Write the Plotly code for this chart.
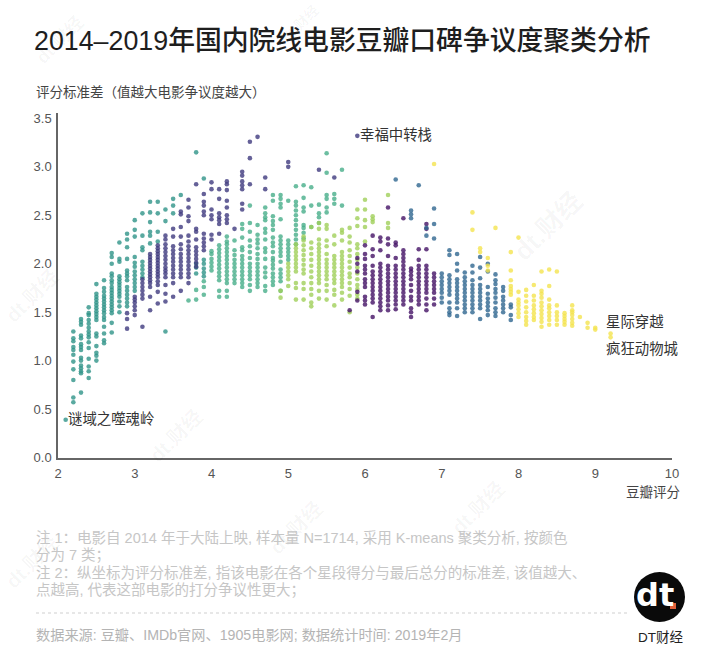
import plotly.graph_objects as go

WIDTH = 720
HEIGHT = 664
LATIN_CJK = "Liberation Sans, Noto Sans CJK SC"

TITLE = "2014–2019年国内院线电影豆瓣口碑争议度聚类分析"
Y_TITLE = "评分标准差（值越大电影争议度越大）"
X_TITLE = "豆瓣评分"
X_TICKS = [2, 3, 4, 5, 6, 7, 8, 9, 10]
Y_TICKS = [0, 0.5, 1, 1.5, 2, 2.5, 3, 3.5]
Y_TICK_LABELS = ["0.0", "0.5", "1.0", "1.5", "2.0", "2.5", "3.0", "3.5"]

NOTES = [
    "注 1：电影自 2014 年于大陆上映, 样本量 N=1714, 采用 K-means 聚类分析, 按颜色",
    "分为 7 类；",
    "注 2：纵坐标为评分标准差, 指该电影在各个星段得分与最后总分的标准差, 该值越大、",
    "点越高, 代表这部电影的打分争议性更大；",
]
SOURCE = "数据来源: 豆瓣、IMDb官网、1905电影网; 数据统计时间: 2019年2月"

# score -> list of rating std values, one dict per k-means cluster
teal = {
    2.1: [0.39],
    2.2: [0.57, 0.62, 0.8, 0.91, 0.99, 1.06, 1.11, 1.14, 1.2, 1.23, 1.3],
    2.3: [0.67, 0.87, 0.89, 0.92, 0.95, 1.0, 1.03, 1.11, 1.14, 1.17, 1.23, 1.26, 1.37, 1.4, 1.43],
    2.4: [0.82, 0.89, 0.94, 1.02, 1.13, 1.19, 1.24, 1.27, 1.3, 1.34, 1.38, 1.42, 1.47, 1.49, 1.55],
    2.5: [1.0, 1.05, 1.08, 1.15, 1.25, 1.28, 1.42, 1.45, 1.48, 1.51, 1.54, 1.57, 1.6, 1.63, 1.66, 1.69, 1.79],
    2.6: [1.18, 1.21, 1.28, 1.35, 1.42, 1.45, 1.49, 1.52, 1.55, 1.58, 1.61, 1.64, 1.67, 1.71, 1.75, 1.83],
    2.7: [1.29, 1.39, 1.49, 1.52, 1.55, 1.58, 1.61, 1.64, 1.67, 1.7, 1.73, 1.76, 1.8, 1.83, 1.87, 1.9, 2.0, 2.07, 2.11],
    2.8: [1.5, 1.56, 1.61, 1.66, 1.69, 1.72, 1.75, 1.78, 1.81, 1.84, 1.87, 2.02, 2.05, 2.22],
    2.9: [1.56, 1.6, 1.64, 1.68, 1.72, 1.76, 1.83, 1.87, 1.9, 1.93, 2.05, 2.17, 2.25, 2.31],
    3.0: [1.72, 1.76, 1.8, 1.84, 1.88, 1.92, 1.97, 2.01, 2.07, 2.28, 2.35, 2.45],
    3.1: [1.86, 1.9, 1.94, 1.98, 2.02, 2.14, 2.17, 2.29, 2.52],
    3.2: [2.21, 2.29, 2.33, 2.43, 2.53, 2.64],
    3.3: [2.23, 2.33, 2.52, 2.64],
    3.4: [1.3, 2.44, 2.56],
    3.5: [2.52, 2.6, 2.67],
    3.6: [2.71],
    3.8: [3.15, 2.0, 1.96, 1.9],
    3.9: [2.88, 1.87, 1.91, 1.95, 2.0, 2.04],
}
indigo = {
    2.9: [1.33, 1.43, 1.49],
    3.0: [1.47, 1.52, 1.56, 1.6, 1.63, 1.66],
    3.1: [1.35, 1.64, 1.68, 1.72, 1.76, 1.8, 1.84],
    3.2: [1.52, 1.66, 1.76, 1.8, 1.83, 1.86, 1.89, 1.92, 1.95, 1.98, 2.01, 2.04, 2.07, 2.1],
    3.3: [1.59, 1.71, 1.78, 1.82, 1.86, 1.89, 1.92, 1.95, 1.98, 2.01, 2.04, 2.07, 2.1, 2.13, 2.16, 2.19],
    3.4: [1.61, 1.69, 1.78, 1.86, 1.9, 1.93, 1.96, 2.0, 2.04, 2.08, 2.12, 2.16, 2.2, 2.25, 2.29],
    3.5: [1.66, 1.8, 1.86, 1.9, 1.94, 1.98, 2.02, 2.06, 2.1, 2.14, 2.18, 2.28, 2.36],
    3.6: [1.72, 1.86, 1.9, 1.94, 1.98, 2.02, 2.06, 2.1, 2.15, 2.2, 2.28, 2.38, 2.51, 2.54],
    3.7: [1.8, 1.86, 1.9, 1.94, 1.98, 2.02, 2.06, 2.1, 2.14, 2.18, 2.23, 2.29, 2.44, 2.49, 2.58, 2.66],
    3.8: [1.97, 2.01, 2.05, 2.09, 2.13, 2.17, 2.25, 2.33, 2.36, 2.82],
    3.9: [2.14, 2.18, 2.22, 2.26, 2.31, 2.5, 2.54, 2.6, 2.64, 2.72],
    4.0: [2.25, 2.3, 2.46, 2.5, 2.56, 2.77, 2.84],
    4.1: [2.31, 2.41, 2.45, 2.48, 2.52, 2.67, 2.77],
    4.2: [2.42, 2.46, 2.5, 2.58, 2.65, 2.76, 2.82, 2.85],
    4.3: [2.36],
    4.4: [2.56, 2.62, 2.77, 2.81, 2.85, 2.91, 2.95],
    4.5: [2.82, 3.09, 3.26],
    4.6: [3.31],
    4.7: [2.77, 2.89],
    5.0: [3.0, 3.05],
    5.4: [2.97],
    5.6: [2.89],
    5.9: [3.32],
}
green = {
    3.7: [1.62],
    3.8: [1.63, 1.73],
    3.9: [1.68, 1.76, 1.82],
    4.0: [1.93, 1.97, 2.01, 2.05, 2.1, 2.13],
    4.1: [1.66, 1.72, 1.83, 1.87, 1.91, 1.95, 1.99, 2.03, 2.07, 2.11, 2.15, 2.19],
    4.2: [1.66, 1.72, 1.8, 1.84, 1.88, 1.92, 1.96, 2.0, 2.04, 2.08, 2.12, 2.16, 2.2, 2.23, 2.28],
    4.3: [1.8, 1.84, 1.88, 1.92, 1.96, 2.0, 2.04, 2.09, 2.14, 2.24],
    4.4: [1.76, 1.8, 1.84, 1.88, 1.92, 1.96, 2.0, 2.04, 2.08, 2.14, 2.17, 2.27, 2.36, 2.41],
    4.5: [1.72, 1.78, 1.84, 1.88, 1.92, 1.96, 2.0, 2.06, 2.12, 2.18, 2.24, 2.33, 2.42, 2.6],
    4.6: [1.76, 1.8, 1.84, 1.88, 1.92, 1.96, 2.0, 2.05, 2.1, 2.16, 2.21, 2.25, 2.3, 2.4],
    4.7: [1.72, 1.77, 1.86, 1.91, 1.96, 2.05, 2.12, 2.16, 2.25, 2.32, 2.36, 2.45, 2.48, 2.52, 2.58],
    4.8: [1.78, 1.82, 1.86, 1.9, 1.95, 1.99, 2.03, 2.06, 2.12, 2.18, 2.22, 2.27, 2.35, 2.4, 2.44, 2.49, 2.65, 2.71],
    4.9: [1.72, 1.82, 1.86, 1.9, 1.94, 2.02, 2.08, 2.12, 2.16, 2.2, 2.24, 2.28, 2.46, 2.58, 2.62, 2.67, 2.71],
    5.0: [2.04, 2.08, 2.12, 2.16, 2.2, 2.24, 2.65],
    5.1: [2.2, 2.25, 2.3, 2.35, 2.4, 2.45, 2.5, 2.55, 2.6, 2.64, 2.8],
    5.2: [2.26, 2.32, 2.37, 2.4, 2.54, 2.58, 2.68, 2.81],
    5.3: [2.38, 2.6, 2.79],
    5.4: [2.42, 2.48, 2.52, 2.61],
    5.5: [2.53, 2.58, 2.67, 2.71, 2.94, 3.14],
    5.6: [2.62, 2.67, 2.72],
    5.7: [2.6, 2.97],
}
light_green = {
    4.9: [1.65, 1.72],
    5.0: [1.77, 1.84, 1.88, 1.92, 1.96, 2.0],
    5.1: [1.63, 1.75, 1.8, 1.92, 1.96, 2.0, 2.04, 2.08, 2.12, 2.16, 2.2],
    5.2: [1.63, 1.74, 1.8, 1.9, 1.94, 1.99, 2.04, 2.09, 2.14, 2.19, 2.24, 2.28],
    5.3: [1.56, 1.6, 1.68, 1.74, 1.8, 1.86, 1.92, 1.98, 2.04, 2.1, 2.16, 2.22, 2.38],
    5.4: [1.64, 1.72, 1.8, 1.84, 1.88, 1.92, 1.96, 2.0, 2.04, 2.08, 2.12, 2.16, 2.2, 2.25, 2.36, 2.42],
    5.5: [1.63, 1.72, 1.78, 1.84, 1.88, 1.92, 1.96, 2.0, 2.04, 2.1, 2.18, 2.24, 2.36, 2.4],
    5.6: [1.57, 1.68, 1.73, 1.8, 1.84, 1.88, 1.92, 1.96, 2.0, 2.04, 2.08, 2.2, 2.29],
    5.7: [1.63, 1.7, 1.76, 1.8, 1.84, 1.88, 1.92, 1.96, 2.0, 2.04, 2.08, 2.12, 2.24, 2.32, 2.35],
    5.8: [1.5, 1.67, 1.74, 1.8, 1.86, 1.9, 1.96, 2.02, 2.08, 2.14, 2.22, 2.28, 2.37],
    5.9: [1.64, 1.68, 1.74, 1.78, 1.84, 1.9, 1.96, 2.04, 2.1, 2.16, 2.2, 2.39, 2.47, 2.56],
    6.0: [2.23, 2.38, 2.45, 2.56, 2.66],
    6.1: [2.43, 2.46, 2.49],
    6.3: [2.37, 2.42, 2.71],
}
purple = {
    5.8: [1.52],
    5.9: [1.62, 1.71, 1.92, 2.0, 2.06],
    6.0: [1.58, 1.62, 1.66, 1.76, 1.8, 1.84, 1.9, 1.94, 1.98, 2.05, 2.1, 2.19],
    6.1: [1.45, 1.6, 1.64, 1.68, 1.72, 1.76, 1.8, 1.84, 1.88, 1.92, 1.98, 2.08, 2.15, 2.29],
    6.2: [1.52, 1.56, 1.6, 1.64, 1.68, 1.72, 1.76, 1.8, 1.84, 1.88, 1.92, 1.96, 2.0, 2.14, 2.23, 2.27],
    6.3: [1.52, 1.57, 1.62, 1.66, 1.7, 1.74, 1.78, 1.82, 1.86, 1.9, 1.94, 1.98, 2.08, 2.2, 2.26, 2.58],
    6.4: [1.53, 1.58, 1.62, 1.66, 1.7, 1.74, 1.78, 1.82, 1.86, 1.9, 1.94, 1.98, 2.06, 2.19, 2.22],
    6.5: [1.58, 1.62, 1.66, 1.7, 1.74, 1.78, 1.82, 1.86, 1.9, 1.94, 1.98, 2.02, 2.06, 2.1, 2.14, 2.47],
    6.6: [1.45, 1.5, 1.54, 1.62, 1.66, 1.72, 1.78, 1.84, 1.88, 1.92, 1.95],
    6.7: [1.58, 1.62, 1.66, 1.7, 1.74, 1.78, 1.82, 1.86, 1.9, 1.94, 1.98, 2.04, 2.15],
    6.8: [1.52, 1.58, 1.64, 1.7, 1.74, 1.78, 1.82, 1.86, 1.9, 1.94, 1.98, 2.15, 2.36, 2.41],
    6.9: [1.58, 1.64, 1.7, 1.74, 1.78, 1.82, 1.86, 1.9],
}
blue = {
    6.4: [2.87],
    6.6: [2.47, 2.51, 2.55],
    6.7: [2.81],
    6.8: [2.29, 2.37],
    6.9: [2.26, 2.41, 2.57],
    7.0: [1.6, 1.65, 1.7, 1.74, 1.78, 1.82, 1.86, 1.9],
    7.1: [1.47, 1.5, 1.54, 1.6, 1.68, 1.72, 1.76, 1.8, 1.84, 1.88, 2.09, 2.14],
    7.2: [1.46, 1.54, 1.6, 1.64, 1.68, 1.72, 1.76, 1.8, 1.84, 1.93, 2.0, 2.1],
    7.3: [1.5, 1.54, 1.58, 1.62, 1.66, 1.7, 1.74, 1.78, 1.82, 1.86, 1.91],
    7.4: [1.5, 1.54, 1.58, 1.62, 1.66, 1.7, 1.74, 1.78, 1.83, 1.91, 1.98],
    7.5: [1.43, 1.54, 1.58, 1.62, 1.66, 1.7, 1.74, 1.78, 1.85, 1.96, 2.07],
    7.6: [1.47, 1.52, 1.56, 1.6, 1.64, 1.69, 1.76, 1.92, 2.0],
    7.7: [1.46, 1.5, 1.54, 1.6, 1.65, 1.7, 1.74, 1.79, 1.83, 1.89],
    7.8: [1.5, 1.54, 1.58, 1.62, 1.66, 1.72, 1.76],
    7.9: [1.42, 1.47, 1.55, 1.58],
}
yellow = {
    6.9: [3.03],
    7.4: [2.35, 2.53],
    7.5: [2.12, 2.16],
    7.6: [1.98, 2.06, 1.93],
    7.7: [2.37],
    7.9: [1.68, 1.71, 1.74, 1.77, 1.83, 1.93, 2.12],
    8.0: [1.45, 1.49, 1.53, 1.57, 1.6, 1.63, 1.71, 2.27],
    8.1: [1.37, 1.41, 1.45, 1.5, 1.55, 1.61, 1.67, 1.73],
    8.2: [1.42, 1.45, 1.49, 1.53, 1.57, 1.62, 1.67, 1.78],
    8.3: [1.35, 1.4, 1.44, 1.48, 1.52, 1.56, 1.6, 1.65, 1.69, 1.72, 1.92],
    8.4: [1.37, 1.42, 1.46, 1.5, 1.54, 1.57, 1.63, 1.77, 1.94],
    8.5: [1.37, 1.42, 1.46, 1.5, 1.57, 1.92],
    8.6: [1.37, 1.4, 1.43, 1.46, 1.49],
    8.7: [1.36, 1.39, 1.43, 1.47, 1.5, 1.52, 1.57],
    8.8: [1.45],
    8.9: [1.34, 1.39],
    9.0: [1.32, 1.34],
    9.2: [1.24, 1.28],
}
clusters = [
    (teal, "#2f9488"),
    (indigo, "#3f3a7e"),
    (green, "#47ae89"),
    (light_green, "#a0cf5a"),
    (purple, "#441265"),
    (blue, "#2f6690"),
    (yellow, "#f4e44f"),
]

WATERMARKS = [(300, 24, 14), (548, 226, 26), (32, 296, 20), (296, 528, 20), (478, 508, 20), (32, 562, 20), (176, 436, 20), (60, 40, 18)]


def px(x):
    return x / WIDTH


def py(y):
    return 1 - y / HEIGHT


fig = go.Figure()
for data, color in clusters:
    xs, ys = [], []
    for score, values in data.items():
        for v in values:
            xs.append(score)
            ys.append(v)
    fig.add_trace(
        go.Scatter(
            x=xs,
            y=ys,
            mode="markers",
            marker=dict(size=4.6, color=color, opacity=0.8, line=dict(width=0)),
            hoverinfo="skip",
        )
    )


def label(x, y, text, size, color="#333333", anchor="left", weight=None, family=LATIN_CJK, angle=0):
    font = dict(size=size, color=color, family=family)
    if weight:
        font["weight"] = weight
    fig.add_annotation(
        x=px(x), y=py(y), xref="paper", yref="paper", text=text, showarrow=False,
        xanchor=anchor, yanchor="middle", font=font, textangle=angle, borderpad=0, borderwidth=0,
    )


for x, y, size in WATERMARKS:
    label(x, y, "dt.财经", size, color="rgba(0,0,0,0.04)", anchor="center", weight=700, angle=-45)

label(34, 41, TITLE, 26.8, color="#1e1e1e", weight=500)
label(36, 93, Y_TITLE, 13.5, color="#444444")
label(680, 492, X_TITLE, 13.5, color="#444444", anchor="right")

# call-outs sit next to their points in data coordinates
for x, y, text in [(2.1, 0.41, "谜域之噬魂岭"), (5.91, 3.34, "幸福中转栈"), (9.12, 1.41, "星际穿越"), (9.12, 1.14, "疯狂动物城")]:
    fig.add_annotation(x=x, y=y, text=text, showarrow=False, xanchor="left", yanchor="middle",
                       font=dict(size=14.4, color="#333333", family="Noto Sans CJK SC"))

for y, line in zip([538, 555, 573, 590], NOTES):
    label(36, y, line, 14.5, color="#c6c6c6")
label(36, 635, SOURCE, 14.2, color="#b4b4b4")

fig.add_shape(type="line", xref="paper", yref="paper", x0=px(36), x1=px(628), y0=py(613), y1=py(613),
              line=dict(color="#cfcfcf", width=1, dash="dot"))
fig.add_shape(type="circle", xref="paper", yref="paper", x0=px(634), x1=px(685), y0=py(572), y1=py(622),
              fillcolor="#0a0a0a", line=dict(width=0))
label(655, 595, "dt", 32, color="#ffffff", anchor="center", weight=700, family="DejaVu Sans")
fig.add_shape(type="rect", xref="paper", yref="paper", x0=px(670), x1=px(676), y0=py(603), y1=py(609),
              fillcolor="#e0603a", line=dict(width=0))
label(660, 637, "DT财经", 13.5, color="#222222", anchor="center")

fig.update_layout(
    width=WIDTH,
    height=HEIGHT,
    margin=dict(l=0, r=0, t=0, b=0, autoexpand=False),
    paper_bgcolor="white",
    plot_bgcolor="white",
    showlegend=False,
    xaxis=dict(
        domain=[px(58), px(672)], range=[2, 10], tickvals=X_TICKS, showgrid=False, zeroline=False,
        showline=True, linecolor="#666666", linewidth=1.5, ticks="", ticklabelstandoff=3,
        tickfont=dict(size=13, color="#555555", family="Liberation Sans"),
    ),
    yaxis=dict(
        domain=[py(457.5), py(113)], range=[0, 3.556], tickvals=Y_TICKS, ticktext=Y_TICK_LABELS,
        showgrid=False, zeroline=False, showline=True, linecolor="#666666", linewidth=1.5, ticks="", ticklabelstandoff=2,
        tickfont=dict(size=13, color="#555555", family="Liberation Sans"),
    ),
)

# drop the browser's default body margin so the page is exactly the figure
fig.write_html("out.html", config={"displayModeBar": False}, post_script="document.body.style.margin = '0';")
